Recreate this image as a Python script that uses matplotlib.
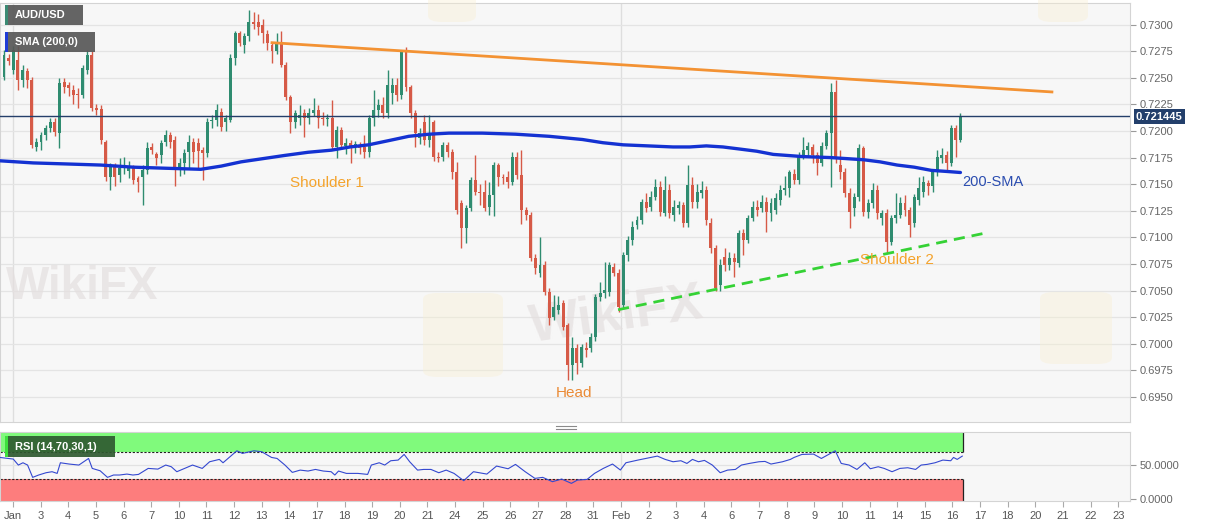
import numpy as np
import matplotlib
matplotlib.use("Agg")
import matplotlib.pyplot as plt
from matplotlib.patches import Rectangle, FancyBboxPatch
from matplotlib.lines import Line2D

plt.rcParams['font.family'] = ['Liberation Sans', 'DejaVu Sans']

# AUD/USD 4H candles, 2 Jan -> 16 Feb
opens = [.7251, .7269, .7257, .7267, .7248, .7256, .7248, .7185, .7190, .7196,
         .7203, .7208, .7198, .7246, .7243, .7239, .7235, .7234, .7257, .7271,
         .7222, .7221, .7190, .7157, .7166, .7159, .7165, .7162, .7165, .7156,
         .7157, .7163, .7185, .7178, .7177, .7190, .7196, .7192, .7163, .7170,
         .7180, .7190, .7189, .7182, .7179, .7209, .7210, .7218, .7208, .7210,
         .7269, .7292, .7281, .7289, .7302, .7302, .7300, .7291, .7281, .7275,
         .7284, .7262, .7232, .7208, .7212, .7217, .7212, .7217, .7220, .7212,
         .7211, .7212, .7185, .7201, .7186, .7189, .7185, .7187, .7185, .7180,
         .7212, .7220, .7224, .7217, .7236, .7243, .7234, .7274, .7241, .7217,
         .7193, .7208, .7192, .7208, .7176, .7176, .7187, .7180, .7161, .7132,
         .7109, .7128, .7154, .7143, .7143, .7129, .7140, .7168, .7157, .7157,
         .7152, .7176, .7159, .7126, .7121, .7081, .7067, .7074, .7049, .7025,
         .7032, .7038, .7018, .6980, .6996, .6982, .6996, .6996, .7006, .7044,
         .7048, .7049, .7072, .7067, .7036, .7083, .7098, .7112, .7116, .7133,
         .7129, .7138, .7147, .7123, .7145, .7121, .7128, .7130, .7114, .7149,
         .7133, .7142, .7145, .7114, .7090, .7055, .7082, .7074, .7081, .7076,
         .7104, .7098, .7118, .7129, .7128, .7133, .7123, .7126, .7135, .7145,
         .7146, .7160, .7154, .7177, .7182, .7185, .7177, .7170, .7186, .7198,
         .7237, .7168, .7161, .7142, .7128, .7138, .7184, .7124, .7132, .7145,
         .7118, .7123, .7096, .7118, .7121, .7132, .7126, .7114, .7135, .7143,
         .7151, .7148, .7161, .7175, .7177, .7170, .7203, .7192]
highs = [.7276, .7272, .7280, .7280, .7262, .7259, .7251, .7193, .7199, .7206,
         .7212, .7212, .7250, .7250, .7246, .7243, .7240, .7262, .7276, .7275,
         .7225, .7224, .7192, .7170, .7170, .7175, .7176, .7172, .7168, .7158,
         .7168, .7190, .7189, .7180, .7192, .7201, .7199, .7195, .7175, .7183,
         .7196, .7193, .7193, .7185, .7212, .7215, .7225, .7222, .7215, .7272,
         .7294, .7294, .7292, .7314, .7312, .7310, .7305, .7295, .7284, .7292,
         .7294, .7265, .7234, .7220, .7224, .7221, .7222, .7231, .7224, .7218,
         .7216, .7229, .7205, .7204, .7193, .7192, .7191, .7190, .7196, .7215,
         .7239, .7230, .7232, .7257, .7250, .7250, .7276, .7279, .7243, .7220,
         .7203, .7215, .7215, .7210, .7180, .7190, .7190, .7183, .7171, .7135,
         .7130, .7157, .7177, .7150, .7154, .7152, .7171, .7170, .7160, .7162,
         .7180, .7180, .7182, .7129, .7124, .7084, .7100, .7078, .7052, .7046,
         .7045, .7041, .7020, .7006, .7000, .7000, .7002, .7010, .7047, .7058,
         .7077, .7077, .7076, .7070, .7086, .7101, .7115, .7120, .7136, .7142,
         .7144, .7155, .7153, .7158, .7150, .7135, .7134, .7133, .7168, .7157,
         .7150, .7153, .7148, .7118, .7093, .7080, .7090, .7086, .7085, .7107,
         .7108, .7121, .7134, .7135, .7140, .7138, .7137, .7142, .7149, .7158,
         .7163, .7164, .7180, .7194, .7190, .7188, .7180, .7190, .7201, .7245,
         .7248, .7182, .7165, .7146, .7142, .7188, .7186, .7136, .7151, .7149,
         .7126, .7127, .7121, .7142, .7138, .7140, .7129, .7141, .7157, .7158,
         .7154, .7164, .7182, .7184, .7181, .7206, .7206, .7217]
lows = [.7248, .7262, .7254, .7239, .7241, .7240, .7184, .7181, .7182, .7192,
        .7199, .7195, .7184, .7236, .7233, .7225, .7222, .7231, .7254, .7219,
        .7215, .7188, .7153, .7145, .7148, .7152, .7160, .7156, .7150, .7143,
        .7130, .7160, .7178, .7168, .7170, .7186, .7184, .7148, .7158, .7160,
        .7165, .7170, .7165, .7154, .7176, .7203, .7205, .7200, .7200, .7208,
        .7262, .7280, .7273, .7285, .7296, .7290, .7283, .7276, .7264, .7272,
        .7260, .7229, .7198, .7203, .7206, .7194, .7207, .7214, .7203, .7206,
        .7205, .7182, .7175, .7183, .7178, .7170, .7179, .7178, .7175, .7176,
        .7205, .7213, .7212, .7212, .7225, .7228, .7230, .7238, .7212, .7185,
        .7188, .7187, .7185, .7172, .7171, .7172, .7176, .7155, .7122, .7090,
        .7095, .7125, .7140, .7130, .7125, .7121, .7120, .7148, .7150, .7146,
        .7149, .7155, .7113, .7116, .7078, .7066, .7063, .7046, .7018, .7022,
        .7028, .7013, .6966, .6966, .6972, .6978, .6988, .6992, .7003, .7040,
        .7043, .7045, .7064, .7030, .7034, .7078, .7093, .7108, .7113, .7124,
        .7125, .7135, .7120, .7120, .7118, .7115, .7122, .7110, .7110, .7128,
        .7128, .7137, .7112, .7085, .7050, .7050, .7068, .7069, .7063, .7072,
        .7083, .7095, .7115, .7120, .7124, .7105, .7115, .7122, .7130, .7140,
        .7138, .7150, .7150, .7174, .7176, .7170, .7159, .7167, .7183, .7147,
        .7170, .7155, .7138, .7109, .7120, .7134, .7120, .7118, .7128, .7117,
        .7112, .7085, .7093, .7114, .7118, .7120, .7100, .7110, .7130, .7138,
        .7140, .7143, .7158, .7170, .7161, .7167, .7176, .7190]
closes = [.7271, .7266, .7276, .7248, .7257, .7248, .7187, .7190, .7196, .7203,
          .7208, .7199, .7245, .7241, .7240, .7234, .7234, .7259, .7271, .7222,
          .7220, .7192, .7157, .7166, .7157, .7165, .7168, .7166, .7154, .7152,
          .7163, .7184, .7182, .7175, .7189, .7196, .7190, .7163, .7170, .7179,
          .7190, .7180, .7181, .7179, .7208, .7210, .7220, .7204, .7212, .7269,
          .7292, .7283, .7289, .7302, .7301, .7298, .7292, .7283, .7275, .7283,
          .7262, .7232, .7208, .7217, .7215, .7212, .7217, .7220, .7212, .7211,
          .7212, .7185, .7201, .7187, .7189, .7185, .7188, .7184, .7180, .7212,
          .7220, .7224, .7217, .7243, .7243, .7234, .7274, .7241, .7217, .7198,
          .7198, .7192, .7198, .7176, .7175, .7187, .7180, .7161, .7126, .7109,
          .7128, .7154, .7143, .7142, .7128, .7140, .7168, .7157, .7156, .7152,
          .7176, .7159, .7126, .7121, .7081, .7071, .7074, .7049, .7024, .7035,
          .7036, .7016, .6980, .6996, .6982, .6997, .6994, .7006, .7044, .7048,
          .7051, .7074, .7067, .7035, .7083, .7098, .7110, .7116, .7133, .7128,
          .7138, .7147, .7124, .7145, .7123, .7129, .7130, .7114, .7149, .7133,
          .7143, .7145, .7116, .7090, .7052, .7074, .7074, .7081, .7077, .7104,
          .7098, .7118, .7129, .7126, .7133, .7124, .7132, .7137, .7145, .7146,
          .7161, .7154, .7177, .7182, .7186, .7177, .7170, .7186, .7198, .7237,
          .7175, .7161, .7142, .7124, .7138, .7184, .7124, .7132, .7145, .7123,
          .7123, .7096, .7118, .7121, .7132, .7126, .7112, .7138, .7146, .7152,
          .7148, .7161, .7176, .7177, .7170, .7203, .7192, .721445]

# 200-period SMA, sampled along the line
sma_idx = [-0.9, 6.3, 13.7, 20.9, 28.0, 35.0, 42.6, 47.0, 51.3, 56.0, 60.7, 65.8,
           70.9, 74.9, 78.9, 83.3, 87.6, 92.0, 96.3, 103.5, 110.7, 118.0, 125.2,
           129.6, 134.0, 139.4, 144.8, 148.4, 152.0, 155.6, 159.3, 162.9, 166.5,
           172.7, 179.0, 182.5, 186.0, 189.6, 193.3, 197.0, 200.7, 204.0, 207.0]
sma_val = [.7172, .7170, .7169, .7168, .7166, .7165, .7164, .7167, .7171, .7174,
           .7177, .7180, .7182, .7185, .7187, .7191, .7195, .7197, .7198, .7198,
           .7197, .7195, .7192, .7189, .7187, .7186, .7185, .7185, .7186, .7185,
           .7183, .7181, .7178, .7176, .7175, .7174, .7173, .7171, .7168, .7166,
           .7163, .7162, .7161]

# RSI(14)
rsi_idx = [-0.9, 0.8, 2.0, 3.1, 4.1, 5.1, 6.2, 7.5, 9.1, 10.4, 11.5, 12.2, 14.1,
           16.2, 18.3, 19.1, 20.8, 22.4, 23.7, 25.0, 26.6, 27.9, 29.1, 31.2, 33.3,
           35.0, 36.2, 37.4, 39.1, 40.8, 42.9, 44.5, 46.6, 47.4, 50.4, 51.6, 54.1,
           55.8, 57.9, 59.1, 60.8, 62.4, 64.1, 65.8, 67.4, 69.1, 70.8, 71.6, 72.4,
           74.1, 76.6, 78.7, 79.5, 81.2, 82.4, 83.7, 85.3, 86.6, 87.8, 89.5, 90.8,
           92.4, 94.1, 95.7, 97.4, 99.5, 101.6, 104.5, 106.6, 109.1, 110.7, 112.8,
           114.9, 116.6, 118.7, 120.7, 122.8, 124.1, 126.2, 127.8, 129.7, 131.7,
           133.4, 134.6, 137.2, 138.9, 141.4, 143.1, 144.8, 146.5, 147.8, 149.0,
           150.3, 151.6, 153.3, 155.0, 156.6, 158.3, 159.6, 161.3, 163.4, 164.7,
           166.0, 168.5, 170.2, 171.0, 172.7, 175.2, 176.9, 178.2, 179.9, 181.2,
           182.9, 184.6, 186.3, 187.5, 189.2, 190.5, 192.2, 193.9, 195.6, 197.3,
           198.5, 199.8, 201.5, 203.2, 204.9, 205.5, 206.3, 207.4]
rsi_val = [61.7, 60.2, 59.3, 50.4, 53.8, 50.4, 32.1, 35.6, 39.0, 40.5, 38.0, 53.8,
           51.9, 50.4, 60.2, 45.4, 41.9, 32.1, 35.6, 35.6, 37.0, 35.6, 36.5, 45.4,
           44.4, 50.4, 47.9, 40.5, 45.4, 50.4, 45.4, 55.3, 58.8, 53.8, 71.6, 67.7,
           71.6, 70.1, 61.7, 60.2, 50.4, 39.5, 42.9, 41.5, 43.9, 41.5, 40.5, 35.6,
           41.5, 38.0, 38.0, 36.5, 50.4, 53.8, 50.4, 56.8, 57.8, 66.2, 55.3, 42.9,
           43.9, 43.9, 39.0, 42.9, 38.0, 27.2, 40.5, 37.0, 48.9, 44.9, 51.4, 40.5,
           30.6, 32.1, 25.7, 29.6, 23.2, 28.1, 29.1, 38.0, 45.4, 51.9, 43.0, 53.8,
           57.8, 60.2, 63.7, 58.8, 55.3, 56.8, 52.8, 58.8, 55.3, 57.3, 50.4, 39.0,
           42.9, 43.9, 50.4, 52.8, 55.3, 55.8, 51.9, 55.3, 58.8, 61.7, 66.2, 66.7,
           60.2, 65.2, 71.6, 52.8, 50.4, 43.9, 53.8, 44.9, 47.9, 45.4, 40.5, 45.4,
           46.4, 43.9, 50.4, 51.4, 53.8, 57.8, 56.8, 61.7, 58.8, 63.7]

day_labels = ['Jan', '3', '4', '5', '6', '7', '10', '11', '12', '13', '14', '17',
              '18', '19', '20', '21', '24', '25', '26', '27', '28', '31', 'Feb',
              '2', '3', '4', '6', '7', '8', '9', '10', '11', '14', '15', '16',
              '17', '18', '20', '21', '22', '23']
price_ticks = [0.6950, 0.6975, 0.7000, 0.7025, 0.7050, 0.7075, 0.7100, 0.7125,
               0.7150, 0.7175, 0.7200, 0.7225, 0.7250, 0.7275, 0.7300]
last_price = 0.721445

# hand-drawn lines on the chart (candle index, price)
res_x, res_y = [58.0, 226.8], [0.7283, 0.72367]
sup_x, sup_y = [132.9, 212.3], [0.7032, 0.7104]

GREEN = '#2f8c70'
RED = '#d65a47'
W, H = 1207, 526


def fx(px):
    return px / W


def fy(py):
    return 1 - py / H


fig = plt.figure(figsize=(W / 100, H / 100), dpi=100)
ax = fig.add_axes([0, fy(422), fx(1130), (422 - 3) / H])
rsi_ax = fig.add_axes([0, fy(501), fx(1130), (501 - 432) / H])

xmin, xmax = -0.87, 243.7
tick_pos = [1.95 + 5.98 * k for k in range(len(day_labels))]

for a in (ax, rsi_ax):
    a.set_facecolor('#f7f7f7')
    a.set_xlim(xmin, xmax)
    for s in a.spines.values():
        s.set_color('#d4d4d4')
        s.set_linewidth(0.8)
    a.yaxis.tick_right()
    a.tick_params(axis='y', colors='#9a9a9a', labelcolor='#666666', labelsize=8,
                  length=4, pad=3)
    a.axvline(tick_pos[0], color='#dedede', lw=1, zorder=0)
    a.axvline(tick_pos[22], color='#dedede', lw=1, zorder=0)

# faint watermarks
ax.text(0.5, 0.7053, 'WikiFX', fontsize=33, fontweight='bold', color='#e4dfdf',
        alpha=0.7, zorder=0.5, va='center')
ax.text(113, 0.7026, 'WikiFX', fontsize=38, fontweight='bold', color='#e4dfdf',
        alpha=0.7, zorder=0.5, va='center', rotation=8)
for (lx, ly, lw_, lh) in [(423, 293, 80, 84), (1040, 292, 72, 72),
                          (428, -20, 48, 42), (1038, -20, 50, 42)]:
    fig.patches.append(FancyBboxPatch((fx(lx), fy(ly + lh)), fx(lw_), lh / H,
                                      boxstyle='round,pad=0,rounding_size=0.012',
                                      transform=fig.transFigure, fc='#f8efd2',
                                      ec='none', alpha=0.4, zorder=0.2))

# main price panel
ax.set_ylim(0.69265, 0.73203)
ax.set_yticks(price_ticks)
ax.set_yticklabels([f'{p:.4f}' for p in price_ticks])
for p in price_ticks:
    ax.axhline(p, color='#e4e4e4', lw=0.9, zorder=0.3)
ax.tick_params(axis='x', bottom=False, labelbottom=False)

o, h, l, c = (np.array(v) for v in (opens, highs, lows, closes))
idx = np.arange(len(c))
cols = np.where(c >= o, GREEN, RED)
ax.vlines(idx, l, h, colors=cols, lw=1, zorder=2)
ax.bar(idx, np.maximum(np.abs(c - o), 0.00005), bottom=np.minimum(o, c),
       width=0.64, color=cols, linewidth=0, zorder=3)

ax.plot(sma_idx, sma_val, color='#1432d2', lw=2.4, zorder=4,
        solid_capstyle='round', solid_joinstyle='round')
ax.plot(res_x, res_y, color='#f39233', lw=2, zorder=4)
ax.plot(sup_x, sup_y, color='#35d235', lw=2, ls=(0, (4, 2.5)), zorder=4)
ax.axhline(last_price, color='#253f6a', lw=1, zorder=5)

ax.text(69.8, 0.71511, 'Shoulder 1', color='#f4a32c', fontsize=11, ha='center',
        va='center', zorder=6)
ax.text(123.4, 0.69538, 'Head', color='#ea8a35', fontsize=11, ha='center',
        va='center', zorder=6)
ax.text(193.3, 0.70788, 'Shoulder 2', color='#f4a32c', fontsize=11, ha='center',
        va='center', zorder=6)
ax.text(207.3, 0.71521, '200-SMA', color='#2b4db0', fontsize=10.5, ha='left',
        va='center', zorder=6)

# RSI panel
rsi_ax.set_ylim(-3, 99.5)
rsi_ax.set_yticks([0, 50])
rsi_ax.set_yticklabels(['0.0000', '50.0000'])
rsi_ax.axhline(50, color='#e2e2e2', lw=0.9, zorder=0.3)
band_end = 207.5
rsi_ax.fill_between([xmin, band_end], 70, 100, color='#80fa7c', lw=0, zorder=1)
rsi_ax.fill_between([xmin, band_end], -3, 30, color='#fd7d7d', lw=0, zorder=1)
rsi_ax.hlines([70, 30], xmin, band_end, colors='#222222', lw=0.8,
              linestyles=(0, (2, 1.5)), zorder=2)
rsi_ax.vlines(band_end, 70, 100, colors='#222222', lw=0.9, zorder=2)
rsi_ax.vlines(band_end, -3, 30, colors='#222222', lw=0.9, zorder=2)
rsi_ax.plot(rsi_idx, rsi_val, color='#3448d0', lw=0.8, zorder=3)
rsi_ax.set_xticks(tick_pos)
rsi_ax.set_xticklabels(day_labels)
rsi_ax.tick_params(axis='x', colors='#aaaaaa', labelcolor='#555555', labelsize=8,
                   length=4, pad=3)

# legend boxes
def tag(x0, y0, x1, y1, face, strip, label):
    fig.patches.append(Rectangle((fx(x0), fy(y1)), fx(x1 - x0), (y1 - y0) / H,
                                 transform=fig.transFigure, fc=face, ec='none',
                                 alpha=0.92, zorder=10))
    fig.patches.append(Rectangle((fx(x0), fy(y1)), fx(2.5), (y1 - y0) / H,
                                 transform=fig.transFigure, fc=strip, ec='none',
                                 zorder=11))
    fig.text(fx(x0 + 10), fy((y0 + y1) / 2), label, color='white', fontsize=8,
             fontweight='bold', va='center', ha='left', zorder=12)


tag(5, 5, 83, 25, '#575757', '#3b8a73', 'AUD/USD')
tag(5, 32, 95, 52, '#575757', '#1f3bd6', 'SMA (200,0)')
tag(5, 436, 115, 457, '#2f5a30', '#3ee03e', 'RSI (14,70,30,1)')

# last price tag
fig.text(fx(1136), fy(116.5), f'{last_price:.6f}', color='white', fontsize=8,
         fontweight='bold', va='center', ha='left', zorder=12,
         bbox=dict(boxstyle='square,pad=0.22', fc='#233f6b', ec='none'))

# pane splitter handle
for yy in (425.5, 428.5):
    fig.add_artist(Line2D([fx(556), fx(576)], [fy(yy), fy(yy)], color='#8a8a8a',
                          lw=0.8, transform=fig.transFigure))

fig.savefig('out.png', dpi=100)
